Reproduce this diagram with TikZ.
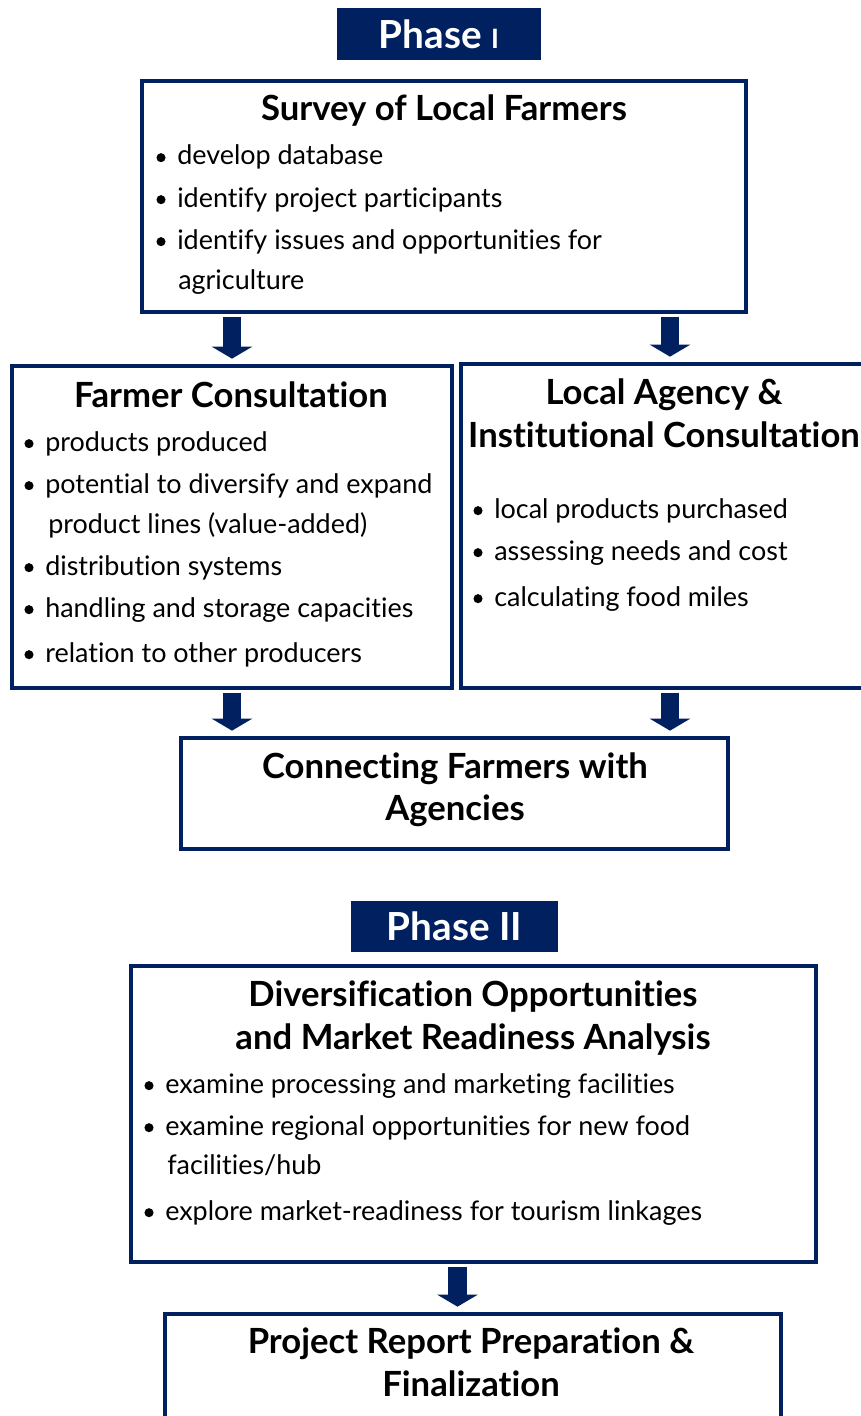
\documentclass[tikz,border=0pt]{standalone}
\usepackage{fontspec}
\setmainfont{Lato}[Ligatures=NoCommon]
\usetikzlibrary{arrows.meta,fit}
\definecolor{phaseblue}{RGB}{0,32,96}
\tikzset{
  stage box/.style={draw=phaseblue, line width=3pt, inner sep=0pt},
  phase tag/.style={fill=phaseblue, inner sep=0pt},
  phase text/.style={text=white, inner sep=0pt,
    font=\fontsize{29}{33}\selectfont\bfseries},
  stage title/.style={anchor=base, inner sep=0pt,
    font=\fontsize{26}{30}\selectfont\bfseries},
  stage item/.style={anchor=base west, inner sep=0pt,
    font=\fontsize{20.2}{24}\selectfont},
  item dot/.style={circle, fill, inner sep=0pt, minimum size=6.8pt},
  flow/.style={draw=phaseblue, line width=14pt, shorten <=2pt, shorten >=4pt,
    -{Triangle[width=30pt,length=9pt]}},
}

\begin{document}
\begin{tikzpicture}[x=0.75pt, y=-0.75pt]
  \useasboundingbox (0,0) rectangle (860,1416);

  % phase one
  \node[phase tag, fit={(337,8)(541,60)}] (phase-one) {};
  \node[phase text] (phase-one-text) at (phase-one.center)
    {Phase {\fontsize{20}{20}\selectfont I}};

  \node[stage box, fit={(142,81)(746,312)}] (survey) {};
  \node[stage title] (survey-title) at (444,121) {Survey of Local Farmers};
  \foreach \y/\txt [count=\i] in {165/develop database,
      207/identify project participants,
      249/identify issues and opportunities for}{
    \node[stage item] (survey-\i) at (177,\y) {\txt};
    \node[item dot] (survey-dot-\i) at ([xshift=-12pt,yshift=5.5pt]survey-\i.base west) {};
  }
  \node[stage item] (survey-4) at (178,289) {agriculture};

  \node[stage box, fit={(12,366)(452,688)}] (farmer) {};
  \node[stage title] (farmer-title) at (231,407) {Farmer Consultation};
  \foreach \y/\txt [count=\i] in {451/products produced,
      493/potential to diversify and expand,
      575/distribution systems,
      617/handling and storage capacities,
      662/relation to other producers}{
    \node[stage item] (farmer-\i) at (45,\y) {\txt};
    \node[item dot] (farmer-dot-\i) at ([xshift=-12pt,yshift=5.5pt]farmer-\i.base west) {};
  }
  \node[stage item] (farmer-6) at (48,533) {product lines (value-added)};

  \node[stage box, fit={(461,364)(879,688)}] (local) {};
  \node[stage title] (local-title-1) at (664,404) {Local Agency \&};
  \node[stage title] (local-title-2) at (664,447) {Institutional Consultation};
  \foreach \y/\txt [count=\i] in {518/local products purchased,
      560/assessing needs and cost,
      606/calculating food miles}{
    \node[stage item] (local-\i) at (494,\y) {\txt};
    \node[item dot] (local-dot-\i) at ([xshift=-12pt,yshift=5.5pt]local-\i.base west) {};
  }

  \node[stage box, fit={(181,738)(728,849)}] (connect) {};
  \node[stage title] (connect-title-1) at (455,778) {Connecting Farmers with};
  \node[stage title] (connect-title-2) at (455,820) {Agencies};

  % phase two
  \node[phase tag, fit={(351,901)(558,952)}] (phase-two) {};
  \node[phase text] (phase-two-text) at (phase-two.center) {Phase II};

  \node[stage box, fit={(131,966)(816,1262)}] (divers) {};
  \node[stage title] (divers-title-1) at (473,1006) {Diversification Opportunities};
  \node[stage title] (divers-title-2) at (473,1049) {and Market Readiness Analysis};
  \foreach \y/\txt [count=\i] in {1093/examine processing and marketing facilities,
      1135/examine regional opportunities for new food,
      1220/explore market-readiness for tourism linkages}{
    \node[stage item] (divers-\i) at (165,\y) {\txt};
    \node[item dot] (divers-dot-\i) at ([xshift=-12pt,yshift=5.5pt]divers-\i.base west) {};
  }
  \node[stage item] (divers-4) at (167,1174) {facilities/hub};

  \node[stage box, fit={(165,1314)(781,1440)}] (report) {};
  \node[stage title] (report-title-1) at (471,1353) {Project Report Preparation \&};
  \node[stage title] (report-title-2) at (471,1396) {Finalization};

  % block arrows between stages
  \draw[flow] (survey.south -| farmer.north) -- (farmer.north);
  \draw[flow] (survey.south -| local.north) -- (local.north);
  \draw[flow] (farmer.south) -- (farmer.south |- connect.north);
  \draw[flow] (local.south) -- (local.south |- connect.north);
  \coordinate (divers-out) at ([xshift=-12pt]divers.south);
  \draw[flow] (divers-out) -- (divers-out |- report.north);
\end{tikzpicture}
\end{document}
